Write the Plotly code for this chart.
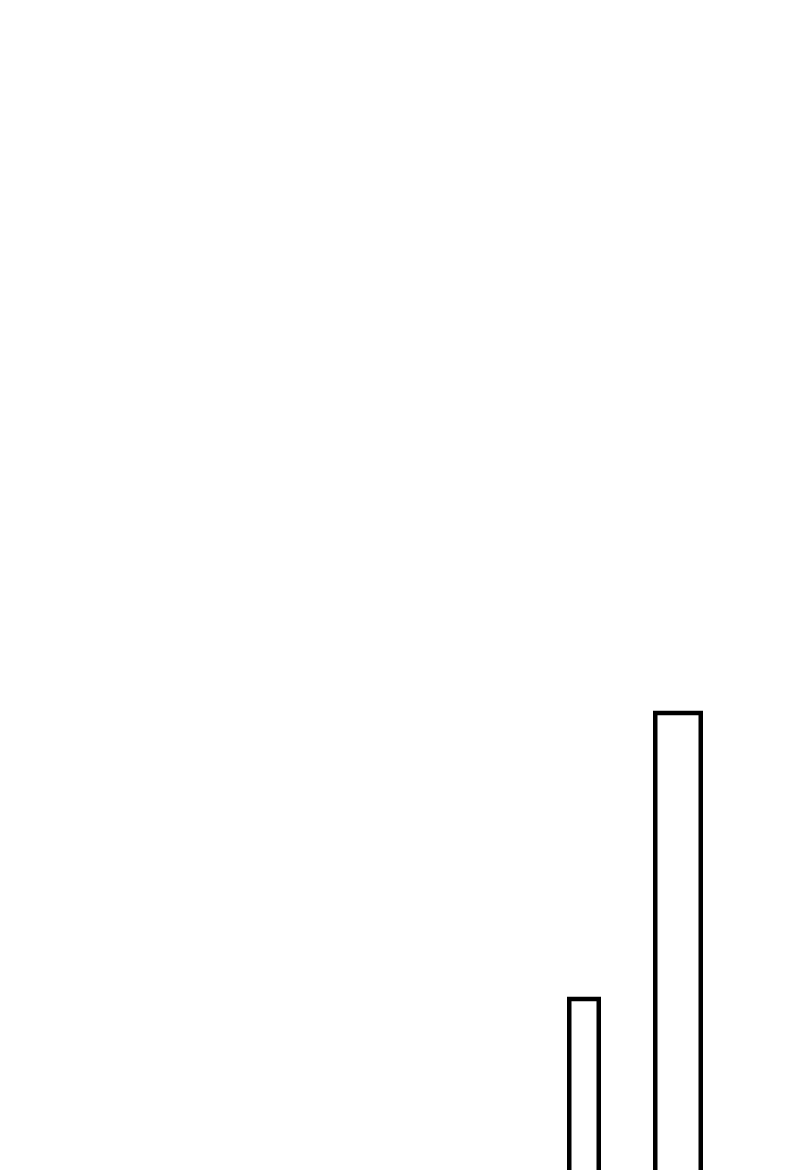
import plotly.graph_objects as go

# two outlined bars, no axes or labels
positions = [576, 670]
heights = [183, 469]
widths = [29.5, 45.5]

fig = go.Figure()
fig.add_trace(go.Bar(
    x=positions,
    y=heights,
    width=widths,
    marker=dict(color='rgba(0,0,0,0)', line=dict(color='black', width=4.5)),
    hoverinfo='skip'
))

fig.update_layout(
    width=800,
    height=1170,
    margin=dict(l=0, r=0, t=0, b=0),
    paper_bgcolor='white',
    plot_bgcolor='white',
    showlegend=False,
    xaxis=dict(range=[0, 800], visible=False),
    yaxis=dict(range=[4, 1174], visible=False),
)

fig.write_html("out.html")
